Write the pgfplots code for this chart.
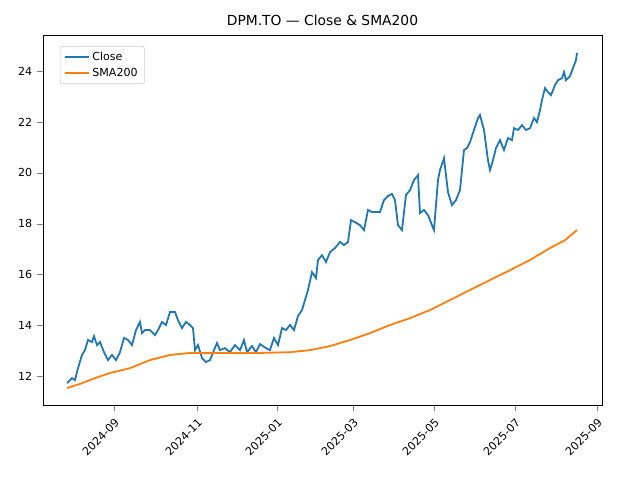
\documentclass[border=0pt]{standalone}
\usepackage{pgfplots}
\pgfplotsset{compat=1.18}
\usepackage{fontspec}
\setmainfont{DejaVu Sans}
\definecolor{cA}{HTML}{1F77B4}
\definecolor{cB}{HTML}{FF7F0E}
\begin{document}
\begin{tikzpicture}
\begin{axis}[
 scale only axis, width=5.59in, height=3.7in,
 xmin=43, xmax=602, ymin=10.86, ymax=25.43,
 xtick={114,197,277,353,434,515,597},
 xticklabels={2024-09,2024-11,2025-01,2025-03,2025-05,2025-07,2025-09},
 xticklabel style={rotate=45, anchor=north east, font=\footnotesize},
 ytick={12,14,16,18,20,22,24},
 yticklabel style={font=\footnotesize},
 /pgf/number format/assume math mode=true,
 tick align=outside, tick pos=left,
 title={DPM.TO — Close \& SMA200},
 title style={yshift=-3pt},
 legend pos=north west, legend cell align=left,
 legend style={font=\footnotesize, draw=black!20, rounded corners=2pt},
 clip=false,
]
\addplot[cA, line width=1.3pt] coordinates {
(67,11.72)(72,11.92)(75,11.84)(78,12.31)(82,12.83)(85,13.02)(88,13.42)(92,13.34)(94,13.57)(97,13.22)(100,13.34)(104,12.94)(108,12.63)(112,12.83)(116,12.63)(120,12.94)(124,13.50)(128,13.42)(132,13.22)(136,13.81)(140,14.13)(142,13.69)(145,13.81)(150,13.81)(155,13.61)(158,13.81)(162,14.13)(166,14.01)(170,14.52)(175,14.52)(178,14.20)(182,13.89)(186,14.13)(190,14.01)(193,13.89)(195,13.02)(198,13.22)(202,12.71)(206,12.55)(210,12.63)(214,13.02)(217,13.30)(220,13.02)(225,13.10)(230,12.94)(235,13.22)(240,13.02)(244,13.42)(247,12.94)(252,13.18)(256,12.94)(260,13.26)(266,13.10)(270,13.02)(274,13.50)(278,13.22)(282,13.89)(286,13.81)(290,14.01)(294,13.81)(298,14.36)(302,14.60)(305,14.99)(308,15.39)(312,16.09)(316,15.86)(318,16.57)(322,16.76)(326,16.49)(330,16.88)(335,17.04)(340,17.28)(344,17.16)(348,17.28)(351,18.14)(355,18.06)(360,17.94)(364,17.75)(368,18.54)(372,18.46)(376,18.46)(380,18.46)(384,18.93)(388,19.09)(392,19.17)(395,18.93)(398,17.94)(402,17.75)(406,19.13)(410,19.32)(414,19.72)(418,19.91)(420,18.42)(424,18.54)(428,18.34)(432,17.94)(434,17.75)(438,19.72)(440,20.11)(444,20.58)(448,19.24)(452,18.73)(456,18.93)(460,19.32)(464,20.90)(467,20.98)(470,21.21)(474,21.69)(478,22.16)(480,22.28)(484,21.69)(488,20.50)(490,20.11)(493,20.50)(496,20.98)(500,21.29)(504,20.90)(508,21.37)(512,21.29)(514,21.76)(518,21.69)(522,21.88)(526,21.69)(530,21.76)(534,22.16)(537,22.00)(540,22.47)(542,22.87)(545,23.34)(548,23.18)(551,23.06)(555,23.46)(558,23.65)(562,23.73)(564,23.97)(566,23.65)(570,23.81)(573,24.13)(576,24.44)(577,24.72)
};
\addlegendentry{Close}
\addplot[cB, line width=1.3pt] coordinates {
(67,11.53)(80,11.69)(95,11.92)(110,12.12)(130,12.31)(150,12.63)(170,12.83)(190,12.91)(220,12.91)(260,12.91)(290,12.94)(310,13.02)(330,13.18)(350,13.42)(370,13.69)(390,14.01)(410,14.28)(430,14.60)(450,14.99)(470,15.39)(490,15.78)(510,16.17)(530,16.57)(550,17.04)(565,17.35)(577,17.75)
};
\addlegendentry{SMA200}
\path (rel axis cs:-0.0769,-0.2027) rectangle (rel axis cs:1.068,1.0946);
\end{axis}
\end{tikzpicture}
\end{document}
